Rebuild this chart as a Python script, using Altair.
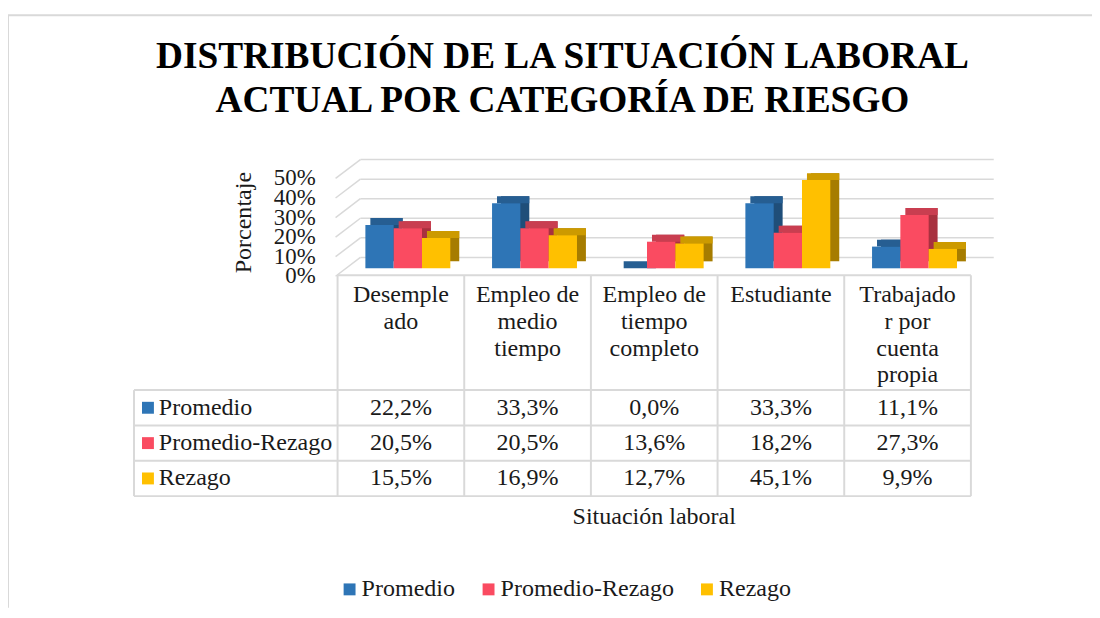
import altair as alt
import pandas as pd

# ---------------- data ----------------
categorias = ["Desempleado", "Empleo de medio tiempo", "Empleo de tiempo completo",
              "Estudiante", "Trabajador por cuenta propia"]
encabezados = ["Desemple\nado", "Empleo de\nmedio\ntiempo", "Empleo de\ntiempo\ncompleto",
               "Estudiante", "Trabajado\nr por\ncuenta\npropia"]
series = ["Promedio", "Promedio-Rezago", "Rezago"]
promedio = [22.2, 33.3, 0.0, 33.3, 11.1]
promedio_rezago = [20.5, 20.5, 13.6, 18.2, 27.3]
rezago = [15.5, 16.9, 12.7, 45.1, 9.9]
ticks_pct = [0, 10, 20, 30, 40, 50]

titulo = ["DISTRIBUCIÓN DE LA SITUACIÓN LABORAL", "ACTUAL POR CATEGORÍA DE RIESGO"]
eje_y = "Porcentaje"
eje_x = "Situación laboral"

# ---------------- style ----------------
FONT = "Liberation Serif"
FS = 24.2
FS_TICK = 23
front = ["#2E75B6", "#FA4B61", "#FFC000"]
topc = ["#265E92", "#C93E50", "#CC9A00"]
side = ["#1F4E79", "#A8313F", "#A67C00"]
GRID = "#D9D9D9"
TXT = "#1A1A1A"

W, H = 1092, 602
X0_PX, UNIT = 332.0, 127.6
xs = alt.Scale(domain=[-X0_PX / UNIT, (W - X0_PX) / UNIT], nice=False, zero=False)
PCT0, PCT_PX = 268.0, 1.97
ys_pct = alt.Scale(domain=[-(H - PCT0) / PCT_PX, PCT0 / PCT_PX], nice=False, zero=False)
TAB0, ROW = 489.5, 35.6
ys_tab = alt.Scale(domain=[-(H - TAB0) / ROW, TAB0 / ROW], nice=False, zero=False)

n = len(categorias)
ns = len(series)
HEAD = ns + 3.25
LBL = -1.607

# ---------------- tables ----------------
vals = [promedio, promedio_rezago, rezago]
rows = []
for j, s in enumerate(series):
    for i, c in enumerate(categorias):
        v = vals[j][i]
        rows.append({"cat": c, "ci": i, "serie": s, "si": j, "valor": v,
                     "etiqueta": f"{v:.1f}".replace(".", ",") + "%",
                     "fila": ns - j - 0.5})
df = pd.DataFrame(rows)

BW = 0.2235
bars = alt.Chart(df).transform_calculate(
    x0=f"datum.ci + 0.5 + (datum.si - 1) * {BW} - {BW / 2}",
    x1=f"datum.ci + 0.5 + (datum.si - 1) * {BW} + {BW / 2}",
)
X = alt.X("x0:Q", scale=xs, axis=None)
X2 = alt.X2("x1:Q")
YV = alt.Y("valor:Q", scale=ys_pct, axis=None)

side_l = bars.mark_rect(xOffset=16, x2Offset=16, yOffset=-15, y2Offset=-15).encode(
    x=X, x2=X2, y=YV, y2=alt.Y2Datum(0),
    color=alt.Color("serie:N", scale=alt.Scale(domain=series, range=side), legend=None))
top_l = bars.mark_rect(xOffset=12, x2Offset=16, yOffset=-15, y2Offset=-8).encode(
    x=X, x2=X2, y=YV, y2=alt.Y2("valor:Q"),
    color=alt.Color("serie:N", scale=alt.Scale(domain=series, range=topc), legend=None))
front_l = bars.mark_rect(xOffset=7, x2Offset=7, yOffset=-8, y2Offset=-8).encode(
    x=X, x2=X2, y=YV, y2=alt.Y2Datum(0),
    color=alt.Color("serie:N", scale=alt.Scale(domain=series, range=front),
                    legend=alt.Legend(orient="none", legendX=332, legendY=571,
                                      direction="horizontal", title=None,
                                      symbolType="square", symbolSize=144,
                                      symbolStrokeWidth=0, symbolOpacity=1,
                                      labelFont=FONT, labelFontSize=FS, labelColor=TXT,
                                      labelLimit=0, columnPadding=21, labelOffset=0,
                                      padding=0)))

# gridlines (3D walls)
gdf = pd.DataFrame({"v": ticks_pct, "lab": [f"{t}%" for t in ticks_pct]})
YG = alt.Y("v:Q", scale=ys_pct, axis=None)
back = alt.Chart(gdf).mark_rule(color=GRID, strokeWidth=1.5, xOffset=23, x2Offset=23,
                                yOffset=-19).encode(
    x=alt.XDatum(0, scale=xs, axis=None), x2=alt.X2Datum(n), y=YG)
diag = alt.Chart(gdf).mark_rule(color=GRID, strokeWidth=1.5, xOffset=-2, x2Offset=23,
                                yOffset=0, y2Offset=-19).encode(
    x=alt.XDatum(0, scale=xs, axis=None), x2=alt.X2Datum(0), y=YG, y2=alt.Y2("v:Q"))
ticklab = alt.Chart(gdf).mark_text(align="right", baseline="middle", dx=-22, font=FONT,
                                   fontSize=FS_TICK, color=TXT).encode(
    x=alt.XDatum(0, scale=xs, axis=None), y=YG, text="lab:N")

ytitle = alt.Chart(pd.DataFrame({"t": [eje_y]})).mark_text(
    angle=270, align="center", baseline="middle", font=FONT, fontSize=FS, color=TXT).encode(
    x=alt.value(238), y=alt.value(214), text="t:N")

# data table grid
vl = pd.DataFrame({"x": list(range(n + 1)) + [LBL],
                   "y0": [0.0] * (n + 1) + [0.0],
                   "y1": [HEAD] * (n + 1) + [float(ns)]})
hl = pd.DataFrame({"y": list(range(ns + 1)) + [HEAD],
                   "x0": [LBL] * (ns + 1) + [0.0],
                   "x1": [float(n)] * (ns + 2)})
vlines = alt.Chart(vl).mark_rule(color=GRID, strokeWidth=2).encode(
    x=alt.X("x:Q", scale=xs, axis=None),
    y=alt.Y("y0:Q", scale=ys_tab, axis=None), y2="y1:Q")
hlines = alt.Chart(hl).mark_rule(color=GRID, strokeWidth=2).encode(
    x=alt.X("x0:Q", scale=xs, axis=None), x2="x1:Q",
    y=alt.Y("y:Q", scale=ys_tab, axis=None))

hdf = pd.DataFrame({"x": [i + 0.5 for i in range(n)], "t": encabezados})
header = alt.Chart(hdf).mark_text(baseline="top", align="center", lineBreak="\n",
                                  lineHeight=27, font=FONT, fontSize=FS, color=TXT).encode(
    x=alt.X("x:Q", scale=xs, axis=None),
    y=alt.YDatum(HEAD - 0.225, scale=ys_tab, axis=None), text="t:N")

cells = alt.Chart(df).transform_calculate(xc="datum.ci + 0.5").mark_text(
    align="center", baseline="middle", font=FONT, fontSize=FS, color=TXT).encode(
    x=alt.X("xc:Q", scale=xs, axis=None),
    y=alt.Y("fila:Q", scale=ys_tab, axis=None), text="etiqueta:N")

sdf = pd.DataFrame({"serie": series, "fila": [ns - j - 0.5 for j in range(ns)]})
sq = alt.Chart(sdf).mark_point(shape="square", size=144, filled=True, opacity=1).encode(
    x=alt.XDatum(LBL + 0.11, scale=xs, axis=None),
    y=alt.Y("fila:Q", scale=ys_tab, axis=None),
    color=alt.Color("serie:N", scale=alt.Scale(domain=series, range=front), legend=None))
slab = alt.Chart(sdf).mark_text(align="left", baseline="middle", font=FONT, fontSize=FS,
                                color=TXT).encode(
    x=alt.XDatum(LBL + 0.196, scale=xs, axis=None),
    y=alt.Y("fila:Q", scale=ys_tab, axis=None), text="serie:N")

xtitle = alt.Chart(pd.DataFrame({"t": [eje_x]})).mark_text(
    align="center", baseline="middle", font=FONT, fontSize=FS, color=TXT).encode(
    x=alt.value(651), y=alt.value(511), text="t:N")

tdf = pd.DataFrame({"t": titulo, "u": [12.43, 11.17]})
title = alt.Chart(tdf).mark_text(align="center", baseline="middle", font=FONT,
                                 fontSize=37.6, fontWeight="bold", color="#000000").encode(
    x=alt.value(558.5), y=alt.Y("u:Q", scale=ys_tab, axis=None), text="t:N")

one = pd.DataFrame({"a": [0]})
frame_l = alt.Chart(one).mark_rule(color=GRID, strokeWidth=2).encode(
    x=alt.value(0), y=alt.value(5), y2=alt.value(H))
frame_t = alt.Chart(one).mark_rule(color=GRID, strokeWidth=2).encode(
    x=alt.value(0), x2=alt.value(W), y=alt.value(5))

chart = alt.layer(
    frame_l, frame_t, back, diag, vlines, hlines,
    side_l, top_l, front_l,
    ticklab, ytitle, header, cells, sq, slab, xtitle, title,
).resolve_scale(y="independent", color="independent").properties(
    width=W, height=H, padding=0, autosize="none"
).configure(font=FONT).configure_view(strokeWidth=0)

chart.save("out.html", embed_options={"renderer": "svg", "actions": False})
